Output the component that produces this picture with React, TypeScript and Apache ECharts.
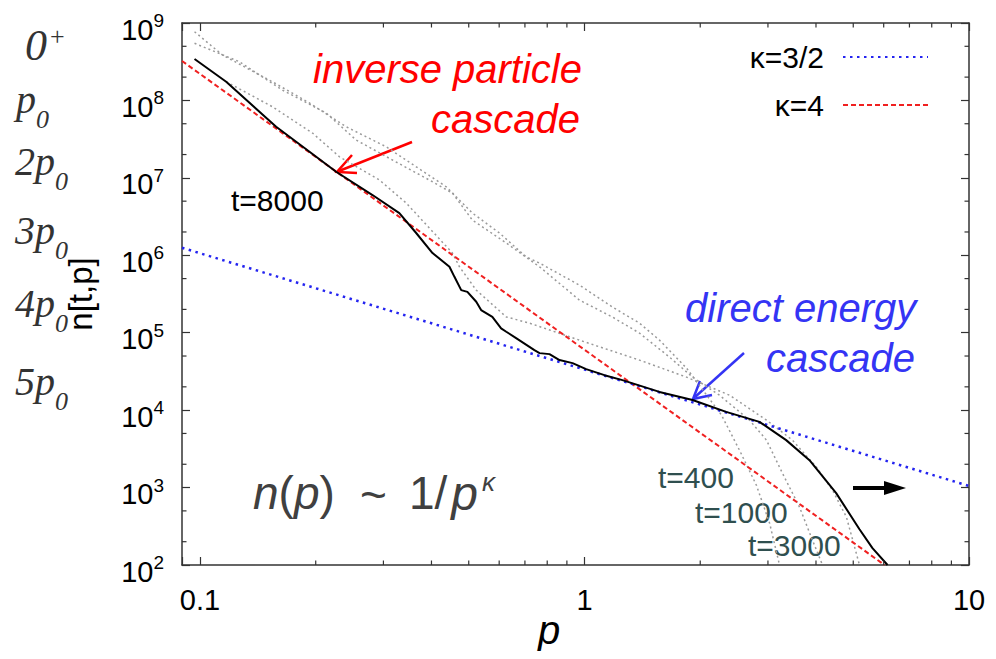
import React, { useEffect, useRef } from 'react';
import * as echarts from 'echarts';

// ---------- axis ranges & ticks ----------
const X_MIN = 0.0898;
const X_MAX = 10;
const Y_MIN = 100;
const Y_MAX = 1e9;
const X_MINOR = [0.2, 0.3, 0.4, 0.5, 0.6, 0.7, 0.8, 0.9, 2, 3, 4, 5, 6, 7, 8, 9];
const Y_MINOR = [200, 500, 2e3, 5e3, 2e4, 5e4, 2e5, 5e5, 2e6, 5e6, 2e7, 5e7, 2e8, 5e8];

// ---------- series values ----------
const P_T8000 = [0.0968, 0.117, 0.1578, 0.1927, 0.226, 0.281, 0.33, 0.365, 0.4025, 0.4455, 0.459, 0.478, 0.496, 0.523, 0.5385, 0.576, 0.607, 0.626, 0.664, 0.741, 0.764, 0.811, 0.861, 0.931, 1.01, 1.127, 1.255, 1.567, 1.91, 2.336, 2.852, 3.346, 3.847, 4.514, 5.19, 5.61, 6.14];
const N_T8000 = [3.43e8, 1.744e8, 4.57e7, 2.17e7, 1.2e7, 6.0e6, 3.51e6, 1.94e6, 1.07e6, 7.1e5, 5.27e5, 3.55e5, 3.37e5, 2.51e5, 1.96e5, 1.6e5, 1.14e5, 1.03e5, 8.5e4, 5.96e4, 5.45e4, 5.29e4, 4.43e4, 4.05e4, 3.39e4, 2.83e4, 2.44e4, 1.72e4, 1.35e4, 9.5e3, 7.06e3, 4.1e3, 2.26e3, 847, 290, 165, 100];

const P_T400 = [0.0968, 0.1144, 0.1543, 0.1927, 0.24, 0.305, 0.365, 0.437, 0.511, 0.601, 0.705, 0.764, 0.97, 1.183, 1.39, 1.567, 1.842, 2.051, 2.272, 2.53, 2.8, 3.03, 3.215];
const N_T400 = [7.72e8, 3.86e8, 1.74e8, 9.26e7, 4.57e7, 2.52e7, 1.39e7, 7.67e6, 3.51e6, 1.94e6, 9.56e5, 7.93e5, 4.12e5, 2.14e5, 1.33e5, 8.02e4, 3.49e4, 1.71e4, 8.62e3, 3.04e3, 1.07e3, 347, 100];

const P_T1000 = [0.0968, 0.1267, 0.1639, 0.2129, 0.2548, 0.3167, 0.4025, 0.4535, 0.511, 0.626, 0.764, 0.97, 1.183, 1.39, 1.664, 1.91, 2.244, 2.687, 2.974, 3.273, 3.625, 3.917, 4.159];
const N_T1000 = [5.47e8, 3.16e8, 1.36e8, 6.88e7, 3.08e7, 1.7e7, 8.9e6, 6.36e6, 2.85e6, 1.44e6, 7.1e5, 2.64e5, 1.59e5, 9.88e4, 4.84e4, 2.67e4, 1.56e4, 7.43e3, 4.1e3, 1.53e3, 558, 209, 100];

const P_T3000 = [0.117, 0.1543, 0.1962, 0.2306, 0.293, 0.344, 0.4535, 0.473, 0.523, 0.626, 0.719, 0.97, 1.39, 1.842, 2.383, 2.974, 3.475, 4.012, 4.416, 4.801, 5.19];
const N_T3000 = [1.744e8, 8.29e7, 3.79e7, 1.87e7, 9.37e6, 4.72e6, 1.07e6, 7.1e5, 3.55e5, 1.6e5, 1.33e5, 8.02e4, 4.43e4, 2.67e4, 1.56e4, 7.43e3, 4.1e3, 1.83e3, 925, 415, 100];

const P_K32 = [0.0898, 10];
const N_K32 = [1.25e6, 1.05e3];
const P_K4 = [0.0898, 6.03];
const N_K4 = [3.23e8, 100];

const LEGEND_NAMES = ['κ=3/2', 'κ=4'];

// ---------- helpers ----------
const SANS = 'Liberation Sans, Arial, Helvetica, sans-serif';
const SERIF = 'Liberation Serif, Times New Roman, serif';
const AX = '#333333';

const pairs = (xs: number[], ys: number[]) => xs.map((x, i) => [x, ys[i]]);
const isPow10 = (v: number) => {
  const l = Math.log10(v);
  return Math.abs(l - Math.round(l)) < 1e-6;
};
const xFmt = (v: number) => {
  if (!isPow10(v)) return '';
  const e = Math.round(Math.log10(v));
  return e < 0 ? String(Math.pow(10, e).toFixed(-e)) : String(Math.pow(10, e));
};
const yFmt = (v: number) => (isPow10(v) ? `{b|10}{s|${Math.round(Math.log10(v))}}` : '');

const axisCommon = {
  type: 'log',
  logBase: 10,
  axisLine: { show: true, onZero: false, lineStyle: { color: AX, width: 1.5 } },
  axisTick: { show: true, inside: true, length: 8, lineStyle: { color: AX, width: 1.2 } },
  splitLine: { show: false },
  minorTick: { show: false },
  minorSplitLine: { show: false },
};

const serifRich = {
  big: { fontSize: 44, fontFamily: SERIF, fontStyle: 'italic', fill: '#333', lineHeight: 48, verticalAlign: 'top' },
  m: { fontSize: 40, fontFamily: SERIF, fontStyle: 'italic', fill: '#333', lineHeight: 44, verticalAlign: 'top' },
  sub: { fontSize: 26, fontFamily: SERIF, fontStyle: 'italic', fill: '#333', lineHeight: 26, padding: [27, 0, 0, 0], verticalAlign: 'top' },
  sup: { fontSize: 26, fontFamily: SERIF, fill: '#333', lineHeight: 20, padding: [0, 0, 0, 3], verticalAlign: 'top' },
};
const serifLabel = (x: number, y: number, text: string) => ({
  type: 'text', x, y, silent: true,
  style: { text, rich: serifRich, align: 'left', verticalAlign: 'top' },
});
const txt = (x: number, y: number, text: string, fill: string, fontSize: number, italic: boolean, align = 'left') => ({
  type: 'text', x, y, silent: true,
  style: { text, fill, fontSize, fontFamily: SANS, fontStyle: italic ? 'italic' : 'normal', align, verticalAlign: 'middle' },
});
const formRich = {
  i: { fontSize: 46, fontFamily: SANS, fontStyle: 'italic', fill: '#404040' },
  ip: { fontSize: 48, fontFamily: SANS, fontStyle: 'italic', fill: '#404040', padding: [0, 0, 0, 4] },
  r: { fontSize: 46, fontFamily: SANS, fill: '#404040' },
};

function buildOption() {
  return {
    animation: false,
    backgroundColor: '#ffffff',
    tooltip: { show: false },
    grid: { left: 182, right: 27, top: 23, bottom: 94, containLabel: false, outerBoundsMode: 'none' },
    legend: {
      orient: 'vertical',
      right: 67,
      top: 40,
      align: 'right',
      padding: 0,
      itemWidth: 85,
      itemHeight: 14,
      itemGap: 14,
      selectedMode: false,
      data: LEGEND_NAMES,
      itemStyle: { opacity: 0 },
      textStyle: { fontSize: 30, fontFamily: SANS, color: '#000', lineHeight: 34, padding: [0, 14, 0, 0] },
    },
    xAxis: [
      {
        ...axisCommon,
        min: X_MIN,
        max: X_MAX,
        position: 'bottom',
        axisLabel: { formatter: xFmt, fontSize: 29, color: '#000', fontFamily: SANS, margin: 20 },
        name: 'p',
        nameLocation: 'middle',
        nameGap: 45,
        nameMoveOverlap: false,
        nameTextStyle: { fontSize: 40, fontStyle: 'italic', fontFamily: SANS, color: '#000', padding: [0, 53, 0, 0] },
      },
      { ...axisCommon, min: X_MIN, max: X_MAX, position: 'top', axisLabel: { show: false } },
    ],
    yAxis: [
      {
        ...axisCommon,
        min: Y_MIN,
        max: Y_MAX,
        position: 'left',
        axisLabel: {
          formatter: yFmt,
          margin: 18,
          padding: [5, 0, 0, 0],
          rich: {
            b: { fontSize: 29, fontFamily: SANS, color: '#000', lineHeight: 29, padding: [4, 0, 0, 0], verticalAlign: 'top' },
            s: { fontSize: 19, fontFamily: SANS, color: '#000', lineHeight: 19, verticalAlign: 'top' },
          },
        },
        name: 'n[t,p]',
        nameLocation: 'middle',
        nameGap: 85,
        nameTextStyle: { fontSize: 33, fontFamily: SANS, color: '#000' },
      },
      { ...axisCommon, min: Y_MIN, max: Y_MAX, position: 'right', axisLabel: { show: false } },
    ],
    series: [
      {
        type: 'custom',
        name: 'minor ticks',
        silent: true,
        clip: false,
        z: 5,
        encode: { x: 0, y: 1 },
        data: [...X_MINOR.map((v) => [v, 1e5, 0]), ...Y_MINOR.map((v) => [1, v, 1])],
        renderItem: (params: any, api: any) => {
          const cs = params.coordSys;
          const st = { stroke: AX, lineWidth: 1.2 };
          const L = 4.5;
          if (api.value(2) === 0) {
            const px = api.coord([api.value(0), 1e5])[0];
            return {
              type: 'group',
              children: [
                { type: 'line', shape: { x1: px, y1: cs.y + cs.height, x2: px, y2: cs.y + cs.height - L }, style: st },
                { type: 'line', shape: { x1: px, y1: cs.y, x2: px, y2: cs.y + L }, style: st },
              ],
            };
          }
          const py = api.coord([1, api.value(1)])[1];
          return {
            type: 'group',
            children: [
              { type: 'line', shape: { x1: cs.x, y1: py, x2: cs.x + L, y2: py }, style: st },
              { type: 'line', shape: { x1: cs.x + cs.width, y1: py, x2: cs.x + cs.width - L, y2: py }, style: st },
            ],
          };
        },
      },
      {
        type: 'line', name: 't=400', data: pairs(P_T400, N_T400), symbol: 'none', silent: true, z: 2,
        lineStyle: { color: '#9a9a9a', width: 1.5, type: [2, 3] },
      },
      {
        type: 'line', name: 't=1000', data: pairs(P_T1000, N_T1000), symbol: 'none', silent: true, z: 2,
        lineStyle: { color: '#9a9a9a', width: 1.5, type: [2, 3] },
      },
      {
        type: 'line', name: 't=3000', data: pairs(P_T3000, N_T3000), symbol: 'none', silent: true, z: 2,
        lineStyle: { color: '#9a9a9a', width: 1.5, type: [2, 3] },
      },
      {
        type: 'line', name: 'κ=4', data: pairs(P_K4, N_K4), symbol: 'none', silent: true, z: 3,
        color: '#f02020',
        lineStyle: { color: '#f02020', width: 2, type: [5, 3] },
      },
      {
        type: 'line', name: 'κ=3/2', data: pairs(P_K32, N_K32), symbol: 'none', silent: true, z: 3,
        color: '#2424f0',
        lineStyle: { color: '#2424f0', width: 2.5, type: [2.5, 4.5] },
      },
      {
        type: 'line', name: 't=8000', data: pairs(P_T8000, N_T8000), symbol: 'none', silent: true, z: 4,
        lineStyle: { color: '#000000', width: 2 },
      },
    ],
    graphic: [
      // left-hand column of labels
      serifLabel(25, 23, '{big|0}{sup|+}'),
      serifLabel(16, 79.5, '{m|p}{sub|0}'),
      serifLabel(15, 141.5, '{m|2p}{sub|0}'),
      serifLabel(15, 210.5, '{m|3p}{sub|0}'),
      serifLabel(15, 283.5, '{m|4p}{sub|0}'),
      serifLabel(15, 361.5, '{m|5p}{sub|0}'),
      // annotations
      txt(313, 69, 'inverse particle', '#ff0000', 40, true),
      txt(580, 119, 'cascade', '#ff0000', 40, true, 'right'),
      txt(231, 200, 't=8000', '#000000', 30, false),
      txt(685, 308, 'direct energy', '#3434f4', 40, true),
      txt(915, 358, 'cascade', '#3434f4', 40, true, 'right'),
      txt(658, 477, 't=400', '#2f4f4f', 30, false),
      txt(695, 512, 't=1000', '#2f4f4f', 30, false),
      txt(748, 545, 't=3000', '#2f4f4f', 30, false),
      // formula n(p) ~ 1/p^κ
      { type: 'text', x: 253, y: 493, silent: true, style: { text: '{i|n}{r|(}{i|p}{r|)}', rich: formRich, verticalAlign: 'middle', align: 'left' } },
      txt(360, 495, '~', '#404040', 46, false),
      { type: 'text', x: 409, y: 493, silent: true, style: { text: '{r|1/}{ip|p}', rich: formRich, verticalAlign: 'middle', align: 'left' } },
      txt(482, 482, 'κ', '#404040', 26, true),
      // arrows
      { type: 'line', silent: true, shape: { x1: 412, y1: 142, x2: 339, y2: 171 }, style: { stroke: '#ff0000', lineWidth: 2.5 } },
      { type: 'polyline', silent: true, shape: { points: [[352, 155], [337, 172], [357, 173]] }, style: { stroke: '#ff0000', lineWidth: 2.5, fill: null } },
      { type: 'line', silent: true, shape: { x1: 744, y1: 353, x2: 695, y2: 397 }, style: { stroke: '#3434f4', lineWidth: 2.5 } },
      { type: 'polyline', silent: true, shape: { points: [[700, 381], [693, 399], [712, 395]] }, style: { stroke: '#3434f4', lineWidth: 2.5, fill: null } },
      { type: 'line', silent: true, shape: { x1: 853, y1: 488, x2: 888, y2: 488 }, style: { stroke: '#000', lineWidth: 4 } },
      { type: 'polygon', silent: true, shape: { points: [[884, 481], [906, 488], [884, 495]] }, style: { fill: '#000' } },
    ],
  };
}

export default function App() {
  const ref = useRef<HTMLDivElement>(null);
  useEffect(() => {
    if (!ref.current) return;
    const chart = echarts.init(ref.current, null, { renderer: 'svg' });
    chart.setOption(buildOption() as any);
    return () => chart.dispose();
  }, []);
  return (
    <div
      ref={ref}
      style={{ margin: -8, width: 996, height: 659, background: '#fff' }}
    />
  );
}
